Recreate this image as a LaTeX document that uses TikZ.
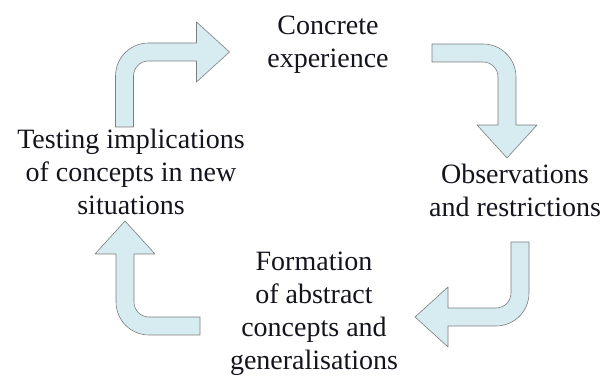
\documentclass[tikz,border=0pt]{standalone}
\usepackage{fontspec}
\setmainfont{Liberation Serif}
\tikzset{
  stage/.style={align=center,inner sep=0pt,outer sep=0pt,text=drawColor,
    font=\fontsize{28}{33}\selectfont},
  arrowbody/.style={fill=fillColor,draw=edgeColor,line width=0.6pt,line join=round},
  % bent block arrow: leaves east, turns south
  bentarrow/.pic={
    \path[arrowbody] (0,9) -- (51,9) arc[start angle=90,end angle=0,radius=33] --
      (84,-72) -- (105,-72) -- (75,-105) -- (45,-72) -- (66,-72) --
      (66,-24) arc[start angle=0,end angle=90,radius=15] -- (0,-9) -- cycle;
  }
}
\begin{document}
\begin{tikzpicture}[x=1pt,y=1pt]
\definecolor{drawColor}{RGB}{20,20,30}
\definecolor{fillColor}{RGB}{214,236,240}
\definecolor{edgeColor}{RGB}{125,125,125}
\path[use as bounding box] (0,0) rectangle (607,377);

\node[stage] (concrete) at (328,332.5) {Concrete\\experience};
\node[stage] (observe) at (515,187) {Observations\\and restrictions};
\node[stage] (formation) at (314,63.5) {Formation\\of abstract\\concepts and\\generalisations};
\node[stage] (testing) at (131,205.5) {Testing implications\\of concepts in new\\situations};

% arrows round the cycle
\pic[rotate=90] at (124.5,250) {bentarrow};
\pic at (432,324) {bentarrow};
\pic[rotate=-90] at (520,135) {bentarrow};
\pic[rotate=180] at (200,51) {bentarrow};
\end{tikzpicture}
\end{document}
